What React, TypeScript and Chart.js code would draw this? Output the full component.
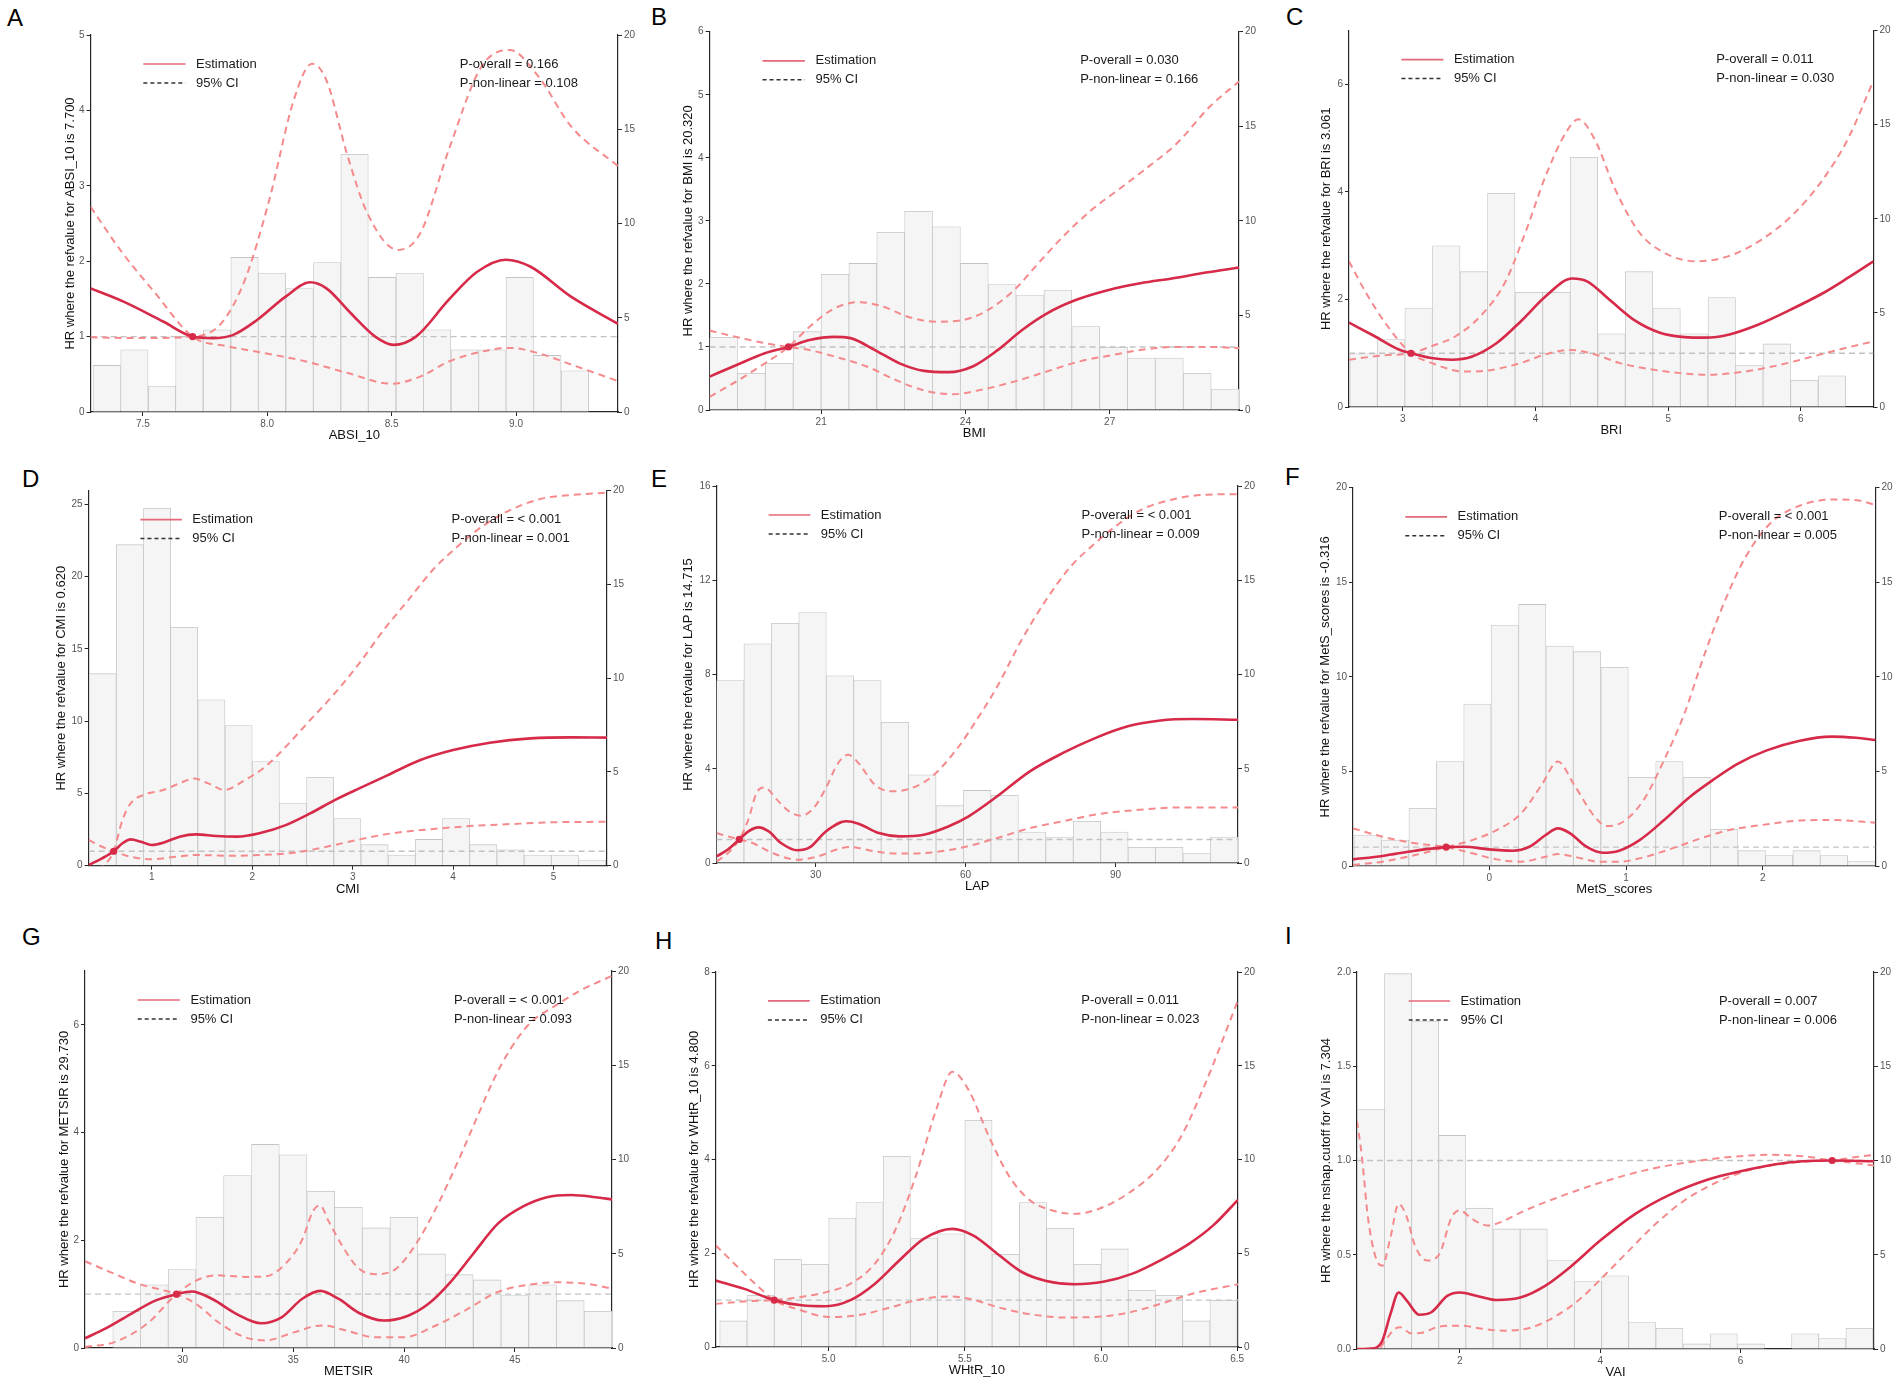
import React, { useEffect, useRef } from 'react';
import { Chart, registerables } from 'chart.js';

Chart.register(...registerables);

const FONT = '"Liberation Sans", Arial, Helvetica, sans-serif';
Chart.defaults.font.family = FONT;

type Pt = [number, number];

const LEGEND_LABELS = ['Estimation', '95% CI'];
const RIGHT_TICKS = [0, 5, 10, 15, 20];
const RIGHT_LABELS = ['0', '5', '10', '15', '20'];

// ---------------- A : ABSI_10 ----------------
const A_binX = [7.355, 7.466, 7.577, 7.687, 7.798, 7.909, 8.019, 8.13, 8.241, 8.351, 8.462, 8.573, 8.683, 8.794, 8.905, 9.015, 9.126, 9.237];
const A_binPct = [2.47, 3.3, 1.38, 4.01, 4.36, 8.2, 7.37, 6.55, 7.93, 13.67, 7.14, 7.37, 4.36, 3.3, 3.3, 7.14, 3.0, 2.19];
const A_est: Pt[] = [[7.29, 1.64], [7.418, 1.47], [7.582, 1.2], [7.7, 1.0], [7.779, 0.98], [7.861, 1.02], [7.959, 1.22], [8.074, 1.53], [8.172, 1.72], [8.238, 1.64], [8.336, 1.31], [8.434, 1.0], [8.508, 0.89], [8.598, 1.0], [8.73, 1.49], [8.844, 1.86], [8.959, 2.02], [9.057, 1.93], [9.221, 1.53], [9.41, 1.17]];
const A_upper: Pt[] = [[7.29, 0.99], [7.5, 0.98], [7.7, 1.0], [7.811, 1.16], [7.91, 1.75], [8.008, 2.81], [8.107, 4.14], [8.18, 4.62], [8.238, 4.4], [8.32, 3.43], [8.402, 2.64], [8.525, 2.15], [8.615, 2.37], [8.73, 3.48], [8.861, 4.58], [8.975, 4.8], [9.09, 4.45], [9.221, 3.79], [9.41, 3.26]];
const A_lower: Pt[] = [[7.29, 2.72], [7.418, 2.11], [7.549, 1.58], [7.7, 1.0], [7.844, 0.87], [7.992, 0.78], [8.156, 0.67], [8.32, 0.52], [8.5, 0.375], [8.615, 0.47], [8.73, 0.67], [8.861, 0.8], [8.975, 0.85], [9.09, 0.78], [9.221, 0.63], [9.41, 0.41]];
const A_xTicks = [7.5, 8.0, 8.5, 9.0];
const A_xLabels = ['7.5', '8.0', '8.5', '9.0'];
const A_yTicks = [0, 1, 2, 3, 4, 5];
const A_yLabels = ['0', '1', '2', '3', '4', '5'];

// ---------------- B : BMI ----------------
const B_binX = [18.97, 19.549, 20.129, 20.708, 21.288, 21.867, 22.447, 23.026, 23.606, 24.185, 24.765, 25.344, 25.924, 26.503, 27.083, 27.662, 28.242, 28.821, 29.401];
const B_binPct = [3.84, 1.94, 2.47, 4.14, 7.17, 7.75, 9.39, 10.5, 9.69, 7.75, 6.63, 6.08, 6.34, 4.41, 3.31, 2.75, 2.75, 1.94, 1.11];
const B_est: Pt[] = [[18.68, 0.53], [19.23, 0.71], [19.83, 0.9], [20.32, 1.0], [20.76, 1.11], [21.27, 1.16], [21.61, 1.14], [22.12, 0.95], [22.63, 0.74], [23.14, 0.62], [23.65, 0.6], [24.15, 0.69], [24.67, 0.95], [25.18, 1.27], [25.69, 1.53], [26.28, 1.74], [26.96, 1.9], [27.64, 2.01], [28.32, 2.09], [29.0, 2.18], [29.69, 2.26]];
const B_upper: Pt[] = [[18.68, 0.21], [19.23, 0.45], [19.83, 0.74], [20.32, 1.0], [20.76, 1.32], [21.27, 1.61], [21.78, 1.71], [22.29, 1.64], [22.8, 1.48], [23.39, 1.4], [23.9, 1.42], [24.41, 1.56], [25.01, 1.9], [25.52, 2.33], [26.03, 2.75], [26.62, 3.17], [27.21, 3.51], [27.81, 3.86], [28.4, 4.23], [29.08, 4.81], [29.69, 5.21]];
const B_lower: Pt[] = [[18.68, 1.26], [19.23, 1.16], [19.83, 1.06], [20.32, 1.0], [20.76, 0.95], [21.27, 0.85], [21.95, 0.69], [22.54, 0.48], [23.14, 0.31], [23.73, 0.25], [24.33, 0.32], [25.01, 0.45], [25.69, 0.61], [26.37, 0.77], [27.05, 0.87], [27.72, 0.96], [28.4, 1.0], [29.08, 1.0], [29.69, 0.98]];
const B_xTicks = [21, 24, 27];
const B_xLabels = ['21', '24', '27'];
const B_yTicks = [0, 1, 2, 3, 4, 5, 6];
const B_yLabels = ['0', '1', '2', '3', '4', '5', '6'];

// ---------------- C : BRI ----------------
const C_binX = [2.704, 2.912, 3.119, 3.327, 3.535, 3.742, 3.95, 4.158, 4.365, 4.573, 4.781, 4.988, 5.196, 5.404, 5.612, 5.819, 6.027, 6.235];
const C_binPct = [2.83, 3.58, 5.26, 8.57, 7.19, 11.35, 6.09, 6.09, 13.27, 3.89, 7.19, 5.26, 3.89, 5.82, 2.23, 3.35, 1.42, 1.66];
const C_est: Pt[] = [[2.594, 1.57], [2.785, 1.32], [2.969, 1.07], [3.061, 1.0], [3.215, 0.91], [3.369, 0.88], [3.523, 0.94], [3.708, 1.19], [3.892, 1.6], [4.077, 2.06], [4.277, 2.39], [4.385, 2.34], [4.569, 1.97], [4.754, 1.6], [4.938, 1.38], [5.123, 1.3], [5.277, 1.29], [5.462, 1.35], [5.677, 1.53], [5.923, 1.81], [6.169, 2.12], [6.354, 2.4], [6.548, 2.71]];
const C_upper: Pt[] = [[2.594, 0.88], [2.846, 0.96], [3.061, 1.0], [3.215, 1.13], [3.4, 1.32], [3.585, 1.69], [3.769, 2.31], [3.923, 3.24], [4.077, 4.3], [4.231, 5.11], [4.323, 5.35], [4.446, 4.98], [4.6, 4.05], [4.785, 3.24], [4.969, 2.87], [5.215, 2.71], [5.462, 2.81], [5.708, 3.12], [5.954, 3.61], [6.169, 4.24], [6.354, 4.98], [6.548, 6.07]];
const C_lower: Pt[] = [[2.594, 2.71], [2.723, 2.12], [2.877, 1.53], [3.061, 1.0], [3.215, 0.82], [3.462, 0.66], [3.646, 0.68], [3.892, 0.82], [4.077, 0.98], [4.262, 1.06], [4.446, 0.98], [4.631, 0.82], [4.846, 0.71], [5.092, 0.63], [5.308, 0.6], [5.554, 0.65], [5.8, 0.76], [6.046, 0.91], [6.292, 1.07], [6.548, 1.22]];
const C_xTicks = [3, 4, 5, 6];
const C_xLabels = ['3', '4', '5', '6'];
const C_yTicks = [0, 2, 4, 6];
const C_yLabels = ['0', '2', '4', '6'];

// ---------------- D : CMI ----------------
const D_binX = [0.51, 0.781, 1.052, 1.322, 1.593, 1.864, 2.135, 2.406, 2.676, 2.947, 3.218, 3.489, 3.76, 4.03, 4.301, 4.572, 4.843, 5.114, 5.384];
const D_binPct = [10.24, 17.12, 19.06, 12.71, 8.85, 7.47, 5.55, 3.34, 4.71, 2.51, 1.12, 0.57, 1.4, 2.51, 1.12, 0.85, 0.57, 0.57, 0.3];
const D_est: Pt[] = [[0.37, 0.05], [0.504, 0.51], [0.62, 1.0], [0.707, 1.55], [0.789, 1.82], [0.89, 1.66], [1.0, 1.43], [1.114, 1.59], [1.276, 2.01], [1.439, 2.17], [1.642, 2.05], [1.846, 2.01], [2.089, 2.28], [2.333, 2.81], [2.577, 3.62], [2.821, 4.54], [3.065, 5.35], [3.35, 6.27], [3.675, 7.31], [4.0, 8.0], [4.366, 8.51], [4.772, 8.81], [5.179, 8.88], [5.533, 8.86]];
const D_upper: Pt[] = [[0.37, -0.8], [0.52, 0.0], [0.62, 1.0], [0.707, 3.16], [0.789, 4.31], [0.911, 4.89], [1.114, 5.24], [1.276, 5.7], [1.419, 6.04], [1.561, 5.7], [1.724, 5.24], [1.927, 5.93], [2.13, 6.85], [2.333, 8.23], [2.577, 10.08], [2.821, 11.92], [3.065, 14.0], [3.309, 16.31], [3.553, 18.38], [3.797, 20.46], [4.041, 22.07], [4.285, 23.45], [4.569, 24.61], [4.894, 25.42], [5.179, 25.65], [5.533, 25.81]];
const D_lower: Pt[] = [[0.37, 1.78], [0.504, 1.31], [0.62, 1.0], [0.789, 0.62], [0.992, 0.44], [1.195, 0.58], [1.439, 0.74], [1.764, 0.69], [2.089, 0.74], [2.415, 0.9], [2.74, 1.31], [3.065, 1.82], [3.39, 2.24], [3.756, 2.51], [4.163, 2.74], [4.569, 2.88], [4.976, 3.0], [5.533, 3.04]];
const D_xTicks = [1, 2, 3, 4, 5];
const D_xLabels = ['1', '2', '3', '4', '5'];
const D_yTicks = [0, 5, 10, 15, 20, 25];
const D_yLabels = ['0', '5', '10', '15', '20', '25'];

// ---------------- E : LAP ----------------
const E_binX = [12.91, 18.4, 23.89, 29.38, 34.87, 40.36, 45.85, 51.34, 56.83, 62.32, 67.81, 73.3, 78.79, 84.28, 89.77, 95.26, 100.75, 106.24, 111.73];
const E_binPct = [9.68, 11.63, 12.72, 13.29, 9.93, 9.68, 7.46, 4.68, 3.04, 3.85, 3.59, 1.64, 1.38, 2.21, 1.64, 0.83, 0.83, 0.53, 1.38];
const E_est: Pt[] = [[10.16, 0.28], [12.45, 0.57], [14.715, 1.0], [16.53, 1.34], [18.57, 1.51], [20.61, 1.34], [23.06, 0.85], [26.33, 0.54], [28.78, 0.66], [32.04, 1.34], [36.12, 1.77], [38.57, 1.67], [42.65, 1.27], [46.73, 1.13], [51.63, 1.2], [56.53, 1.55], [60.61, 1.98], [66.33, 2.83], [72.86, 3.89], [79.39, 4.66], [85.92, 5.3], [92.45, 5.8], [98.98, 6.05], [105.51, 6.11], [114.5, 6.08]];
const E_upper: Pt[] = [[10.16, 0.07], [12.45, 0.42], [14.715, 1.0], [16.53, 1.84], [18.16, 2.97], [19.8, 3.2], [22.24, 2.69], [24.69, 2.19], [27.14, 2.01], [29.59, 2.33], [32.04, 3.18], [34.49, 4.24], [36.53, 4.59], [38.57, 4.24], [41.84, 3.32], [45.1, 3.04], [49.18, 3.18], [53.27, 3.67], [58.16, 4.81], [62.24, 6.08], [66.33, 7.49], [71.22, 9.47], [76.12, 11.17], [81.02, 12.58], [85.92, 13.57], [90.82, 14.42], [95.71, 15.05], [101.43, 15.43], [107.14, 15.62], [112.86, 15.65], [114.5, 15.65]];
const E_lower: Pt[] = [[10.16, 1.27], [12.45, 1.13], [14.715, 1.0], [17.35, 0.85], [21.43, 0.42], [26.33, 0.14], [30.41, 0.28], [34.49, 0.59], [36.94, 0.68], [41.84, 0.49], [46.73, 0.4], [53.27, 0.45], [59.8, 0.68], [66.33, 1.06], [72.86, 1.48], [79.39, 1.77], [86.73, 2.08], [94.9, 2.26], [103.06, 2.36], [114.5, 2.36]];
const E_xTicks = [30, 60, 90];
const E_xLabels = ['30', '60', '90'];
const E_yTicks = [0, 4, 8, 12, 16];
const E_yLabels = ['0', '4', '8', '12', '16'];

// ---------------- F : MetS_scores ----------------
const F_binX = [-0.89, -0.689, -0.488, -0.288, -0.087, 0.113, 0.314, 0.514, 0.715, 0.916, 1.116, 1.317, 1.517, 1.718, 1.919, 2.119, 2.32, 2.52, 2.721];
const F_binPct = [1.64, 1.37, 3.05, 5.52, 8.56, 12.74, 13.83, 11.63, 11.33, 10.5, 4.69, 5.52, 4.69, 1.94, 0.81, 0.55, 0.81, 0.55, 0.26];
const F_est: Pt[] = [[-0.997, 0.35], [-0.782, 0.53], [-0.543, 0.81], [-0.316, 1.0], [-0.185, 1.02], [-0.006, 0.88], [0.173, 0.81], [0.293, 1.02], [0.412, 1.64], [0.501, 1.99], [0.591, 1.73], [0.71, 1.02], [0.83, 0.7], [0.949, 0.81], [1.099, 1.37], [1.278, 2.43], [1.457, 3.6], [1.636, 4.55], [1.815, 5.4], [2.024, 6.1], [2.263, 6.61], [2.501, 6.84], [2.681, 6.78], [2.824, 6.66]];
const F_upper: Pt[] = [[-0.997, 0.05], [-0.782, 0.23], [-0.543, 0.58], [-0.316, 1.0], [-0.125, 1.37], [0.054, 1.9], [0.233, 2.78], [0.382, 4.28], [0.501, 5.52], [0.621, 4.28], [0.77, 2.61], [0.86, 2.11], [0.979, 2.34], [1.128, 3.49], [1.278, 5.6], [1.427, 8.07], [1.576, 11.24], [1.725, 14.06], [1.875, 16.35], [2.054, 18.11], [2.263, 19.03], [2.531, 19.38], [2.71, 19.31], [2.824, 19.08]];
const F_lower: Pt[] = [[-0.997, 1.99], [-0.782, 1.55], [-0.543, 1.2], [-0.316, 1.0], [-0.125, 0.67], [0.054, 0.35], [0.233, 0.23], [0.412, 0.49], [0.501, 0.63], [0.621, 0.49], [0.8, 0.23], [0.949, 0.23], [1.128, 0.46], [1.337, 0.93], [1.546, 1.46], [1.755, 1.9], [1.994, 2.17], [2.263, 2.4], [2.501, 2.43], [2.824, 2.29]];
const F_xTicks = [0, 1, 2];
const F_xLabels = ['0', '1', '2'];
const F_yTicks = [0, 5, 10, 15, 20];
const F_yLabels = ['0', '5', '10', '15', '20'];

// ---------------- G : METSIR ----------------
const G_binX = [26.23, 27.48, 28.73, 29.98, 31.23, 32.48, 33.74, 34.99, 36.24, 37.49, 38.74, 39.99, 41.24, 42.49, 43.75, 45.0, 46.25, 47.5, 48.75];
const G_binPct = [0, 1.95, 3.35, 4.16, 6.94, 9.15, 10.8, 10.25, 8.32, 7.47, 6.37, 6.94, 4.99, 3.89, 3.61, 2.78, 3.35, 2.51, 1.95];
const G_est: Pt[] = [[25.6, 0.18], [26.56, 0.37], [27.66, 0.63], [28.77, 0.88], [29.73, 1.0], [30.42, 1.05], [31.34, 0.91], [32.45, 0.63], [33.55, 0.46], [34.47, 0.57], [35.39, 0.91], [36.22, 1.06], [37.05, 0.91], [37.97, 0.65], [39.07, 0.51], [40.18, 0.6], [41.1, 0.82], [42.02, 1.19], [43.12, 1.75], [44.23, 2.31], [45.33, 2.62], [46.44, 2.8], [47.54, 2.84], [48.64, 2.8], [49.38, 2.76]];
const G_upper: Pt[] = [[25.6, 0.02], [26.93, 0.11], [28.4, 0.45], [29.73, 1.0], [30.61, 1.25], [31.53, 1.35], [32.82, 1.32], [33.74, 1.33], [34.66, 1.57], [35.39, 2.0], [35.9, 2.55], [36.2, 2.65], [36.6, 2.35], [37.23, 1.88], [37.97, 1.47], [38.71, 1.37], [39.63, 1.47], [40.55, 1.94], [41.47, 2.62], [42.39, 3.43], [43.31, 4.3], [44.04, 4.98], [44.78, 5.54], [45.7, 6.04], [46.8, 6.35], [47.91, 6.63], [49.38, 6.91]];
const G_lower: Pt[] = [[25.6, 1.61], [26.74, 1.41], [28.03, 1.19], [29.73, 1.0], [30.61, 0.82], [31.71, 0.45], [32.82, 0.2], [33.74, 0.14], [35.02, 0.29], [36.31, 0.42], [37.42, 0.32], [38.71, 0.2], [40.0, 0.2], [41.28, 0.39], [42.76, 0.7], [44.23, 1.04], [45.7, 1.18], [46.99, 1.22], [48.28, 1.19], [49.38, 1.1]];
const G_xTicks = [30, 35, 40, 45];
const G_xLabels = ['30', '35', '40', '45'];
const G_yTicks = [0, 2, 4, 6];
const G_yLabels = ['0', '2', '4', '6'];

// ---------------- H : WHtR_10 ----------------
const H_binX = [4.65, 4.75, 4.85, 4.95, 5.05, 5.15, 5.25, 5.35, 5.45, 5.55, 5.65, 5.75, 5.85, 5.95, 6.05, 6.15, 6.25, 6.35, 6.45];
const H_binPct = [1.39, 2.76, 4.68, 4.41, 6.88, 7.7, 10.17, 5.78, 6.04, 12.09, 4.94, 7.7, 6.33, 4.41, 5.23, 3.02, 2.76, 1.39, 2.49];
const H_est: Pt[] = [[4.585, 1.42], [4.69, 1.24], [4.8, 1.0], [4.9, 0.89], [4.99, 0.87], [5.08, 1.0], [5.17, 1.35], [5.26, 1.85], [5.35, 2.31], [5.454, 2.52], [5.53, 2.38], [5.619, 1.99], [5.709, 1.6], [5.799, 1.41], [5.903, 1.34], [6.008, 1.39], [6.113, 1.56], [6.218, 1.85], [6.323, 2.2], [6.413, 2.6], [6.503, 3.14]];
const H_upper: Pt[] = [[4.585, 0.92], [4.705, 0.98], [4.8, 1.0], [4.9, 1.07], [4.99, 1.17], [5.08, 1.35], [5.17, 1.78], [5.244, 2.49], [5.319, 3.63], [5.394, 5.05], [5.454, 5.87], [5.514, 5.48], [5.589, 4.48], [5.664, 3.63], [5.739, 3.13], [5.829, 2.9], [5.903, 2.84], [5.993, 2.95], [6.098, 3.27], [6.203, 3.77], [6.293, 4.48], [6.383, 5.62], [6.503, 7.4]];
const H_lower: Pt[] = [[4.585, 2.17], [4.66, 1.74], [4.735, 1.32], [4.8, 1.0], [4.9, 0.78], [5.0, 0.64], [5.11, 0.68], [5.23, 0.85], [5.33, 1.01], [5.44, 1.08], [5.53, 1.01], [5.62, 0.85], [5.74, 0.7], [5.86, 0.63], [5.978, 0.64], [6.098, 0.73], [6.218, 0.92], [6.338, 1.14], [6.503, 1.34]];
const H_xTicks = [5.0, 5.5, 6.0, 6.5];
const H_xLabels = ['5.0', '5.5', '6.0', '6.5'];
const H_yTicks = [0, 2, 4, 6, 8];
const H_yLabels = ['0', '2', '4', '6', '8'];

// ---------------- I : VAI ----------------
const I_binX = [0.733, 1.12, 1.506, 1.893, 2.279, 2.666, 3.053, 3.439, 3.826, 4.213, 4.599, 4.986, 5.373, 5.759, 6.146, 6.533, 6.919, 7.306, 7.693];
const I_binPct = [12.73, 19.91, 17.4, 11.33, 7.47, 6.37, 6.37, 4.69, 3.58, 3.88, 1.4, 1.1, 0.27, 0.81, 0.27, 0, 0.81, 0.55, 1.1];
const I_est: Pt[] = [[0.535, 0.0], [0.779, 0.004], [0.895, 0.044], [1.012, 0.186], [1.128, 0.3], [1.244, 0.257], [1.419, 0.182], [1.593, 0.195], [1.826, 0.283], [2.0, 0.3], [2.233, 0.283], [2.523, 0.26], [2.872, 0.274], [3.221, 0.336], [3.57, 0.434], [4.0, 0.575], [4.5, 0.717], [4.965, 0.814], [5.547, 0.9], [6.0, 0.943], [6.477, 0.979], [6.884, 0.996], [7.304, 1.0], [7.9, 0.996]];
const I_upper: Pt[] = [[0.535, 1.21], [0.605, 1.02], [0.69, 0.7], [0.808, 0.478], [0.895, 0.442], [1.012, 0.593], [1.128, 0.77], [1.244, 0.7], [1.36, 0.549], [1.535, 0.469], [1.709, 0.504], [1.884, 0.7], [2.0, 0.735], [2.174, 0.69], [2.407, 0.655], [2.581, 0.673], [2.93, 0.735], [3.337, 0.796], [3.802, 0.858], [4.267, 0.912], [4.733, 0.956], [5.256, 0.991], [5.837, 1.018], [6.419, 1.03], [6.884, 1.023], [7.304, 1.0], [7.64, 0.986], [7.9, 0.973]];
const I_lower: Pt[] = [[0.535, 0.0], [0.837, 0.0], [0.953, 0.053], [1.07, 0.106], [1.157, 0.115], [1.302, 0.083], [1.477, 0.088], [1.709, 0.119], [2.0, 0.124], [2.349, 0.106], [2.64, 0.097], [2.988, 0.111], [3.337, 0.168], [3.686, 0.257], [4.035, 0.381], [4.384, 0.513], [4.791, 0.664], [5.198, 0.788], [5.663, 0.885], [6.128, 0.95], [6.593, 0.982], [6.99, 0.996], [7.304, 1.0], [7.64, 1.018], [7.9, 1.03]];
const I_xTicks = [2, 4, 6];
const I_xLabels = ['2', '4', '6'];
const I_yTicks = [0, 0.5, 1.0, 1.5, 2.0];
const I_yLabels = ['0.0', '0.5', '1.0', '1.5', '2.0'];

interface PanelData {
  letter: string; xName: string; yTitle: string; pOverall: string; pNonlin: string;
  binX: number[]; binPct: number[]; est: Pt[]; upper: Pt[]; lower: Pt[]; ref: number;
  xMin: number; xMax: number; yMax: number;
  xTicks: number[]; xLabels: string[]; yTicks: number[]; yLabels: string[];
}

const PANELS: PanelData[] = [
  { letter: 'A', xName: 'ABSI_10', yTitle: 'HR where the refvalue for ABSI_10 is 7.700', pOverall: 'P-overall = 0.166', pNonlin: 'P-non-linear = 0.108', binX: A_binX, binPct: A_binPct, est: A_est, upper: A_upper, lower: A_lower, ref: 7.7, xMin: 7.29, xMax: 9.41, yMax: 5, xTicks: A_xTicks, xLabels: A_xLabels, yTicks: A_yTicks, yLabels: A_yLabels },
  { letter: 'B', xName: 'BMI', yTitle: 'HR where the refvalue for BMI is 20.320', pOverall: 'P-overall = 0.030', pNonlin: 'P-non-linear = 0.166', binX: B_binX, binPct: B_binPct, est: B_est, upper: B_upper, lower: B_lower, ref: 20.32, xMin: 18.68, xMax: 29.69, yMax: 6, xTicks: B_xTicks, xLabels: B_xLabels, yTicks: B_yTicks, yLabels: B_yLabels },
  { letter: 'C', xName: 'BRI', yTitle: 'HR where the refvalue for BRI is 3.061', pOverall: 'P-overall = 0.011', pNonlin: 'P-non-linear = 0.030', binX: C_binX, binPct: C_binPct, est: C_est, upper: C_upper, lower: C_lower, ref: 3.061, xMin: 2.594, xMax: 6.548, yMax: 7, xTicks: C_xTicks, xLabels: C_xLabels, yTicks: C_yTicks, yLabels: C_yLabels },
  { letter: 'D', xName: 'CMI', yTitle: 'HR where the refvalue for CMI is 0.620', pOverall: 'P-overall = < 0.001', pNonlin: 'P-non-linear = 0.001', binX: D_binX, binPct: D_binPct, est: D_est, upper: D_upper, lower: D_lower, ref: 0.62, xMin: 0.37, xMax: 5.533, yMax: 25.95, xTicks: D_xTicks, xLabels: D_xLabels, yTicks: D_yTicks, yLabels: D_yLabels },
  { letter: 'E', xName: 'LAP', yTitle: 'HR where the refvalue for LAP is 14.715', pOverall: 'P-overall = < 0.001', pNonlin: 'P-non-linear = 0.009', binX: E_binX, binPct: E_binPct, est: E_est, upper: E_upper, lower: E_lower, ref: 14.715, xMin: 10.16, xMax: 114.5, yMax: 16, xTicks: E_xTicks, xLabels: E_xLabels, yTicks: E_yTicks, yLabels: E_yLabels },
  { letter: 'F', xName: 'MetS_scores', yTitle: 'HR where the refvalue for MetS_scores is -0.316', pOverall: 'P-overall = < 0.001', pNonlin: 'P-non-linear = 0.005', binX: F_binX, binPct: F_binPct, est: F_est, upper: F_upper, lower: F_lower, ref: -0.316, xMin: -0.997, xMax: 2.824, yMax: 20, xTicks: F_xTicks, xLabels: F_xLabels, yTicks: F_yTicks, yLabels: F_yLabels },
  { letter: 'G', xName: 'METSIR', yTitle: 'HR where the refvalue for METSIR is 29.730', pOverall: 'P-overall = < 0.001', pNonlin: 'P-non-linear = 0.093', binX: G_binX, binPct: G_binPct, est: G_est, upper: G_upper, lower: G_lower, ref: 29.73, xMin: 25.6, xMax: 49.38, yMax: 7, xTicks: G_xTicks, xLabels: G_xLabels, yTicks: G_yTicks, yLabels: G_yLabels },
  { letter: 'H', xName: 'WHtR_10', yTitle: 'HR where the refvalue for WHtR_10 is 4.800', pOverall: 'P-overall = 0.011', pNonlin: 'P-non-linear = 0.023', binX: H_binX, binPct: H_binPct, est: H_est, upper: H_upper, lower: H_lower, ref: 4.8, xMin: 4.585, xMax: 6.503, yMax: 8, xTicks: H_xTicks, xLabels: H_xLabels, yTicks: H_yTicks, yLabels: H_yLabels },
  { letter: 'I', xName: 'VAI', yTitle: 'HR where the nshap.cutoff for VAI is 7.304', pOverall: 'P-overall = 0.007', pNonlin: 'P-non-linear = 0.006', binX: I_binX, binPct: I_binPct, est: I_est, upper: I_upper, lower: I_lower, ref: 7.304, xMin: 0.535, xMax: 7.9, yMax: 2, xTicks: I_xTicks, xLabels: I_xLabels, yTicks: I_yTicks, yLabels: I_yLabels },
];

// plot-area rectangles (page pixels) and y-title gap, plus panel letter positions
interface Layout { left: number; right: number; top: number; bottom: number; gap: number; lx: number; ly: number; }
const LAYOUT: Layout[] = [
  { left: 90.6, right: 618, top: 35, bottom: 412, gap: 20, lx: 7, ly: 6 },
  { left: 709.6, right: 1239, top: 31.7, bottom: 410, gap: 21, lx: 651, ly: 5 },
  { left: 1349, right: 1873.5, top: 30.6, bottom: 407, gap: 22, lx: 1286, ly: 5 },
  { left: 88.6, right: 607, top: 490.7, bottom: 865.7, gap: 27, lx: 22, ly: 467 },
  { left: 716.5, right: 1238, top: 486, bottom: 863, gap: 27.5, lx: 651, ly: 467 },
  { left: 1353, right: 1875.5, top: 487.7, bottom: 866, gap: 27, lx: 1285, ly: 465 },
  { left: 85, right: 612, top: 971, bottom: 1348, gap: 20.5, lx: 22, ly: 925 },
  { left: 715.7, right: 1238, top: 972, bottom: 1347, gap: 20.7, lx: 655, ly: 929 },
  { left: 1357, right: 1874, top: 972, bottom: 1349, gap: 30.5, lx: 1285, ly: 924 },
];

const EST_COLOR = '#d62a48';
const CI_COLOR = '#f58a8c';
const LEG_RED = '#e4687a';
const BAR_FILL = '#f5f5f5';
const BAR_EDGE = '#c4c4c4';
const REF_COLOR = '#c2c2c2';
const AXIS_COLOR = '#262626';
const TICK_TEXT = '#555555';

const toXY = (pts: Pt[]) => pts.map(([x, y]) => ({ x, y }));

function Panel({ d, lay }: { d: PanelData; lay: Layout }) {
  const ref = useRef<HTMLCanvasElement | null>(null);
  const L0 = lay.gap + 7.8;
  const R0 = 24;
  const T0 = 10;
  const B0 = 31;
  const cLeft = Math.round(lay.left - L0);
  const cTop = Math.round(lay.top - T0);
  const W = Math.round(lay.right + R0 - cLeft);
  const H = Math.round(lay.bottom + B0 - cTop);
  const L = lay.left - cLeft;
  const T = lay.top - cTop;
  const R = cLeft + W - lay.right;
  const B = cTop + H - lay.bottom;

  useEffect(() => {
    if (!ref.current) return;
    const overlay = {
      id: 'overlay' + d.letter,
      afterDraw(c: any) {
        const { ctx, chartArea: a } = c;
        const w = a.right - a.left;
        const h = a.bottom - a.top;
        const y1 = a.top + 0.077 * h;
        const y2 = y1 + 19;
        const x0 = a.left + 0.1 * w;
        const x1 = a.left + 0.18 * w;
        const xt = a.left + 0.2 * w;
        const xp = a.left + 0.7 * w;
        ctx.save();
        ctx.lineWidth = 1.6;
        ctx.strokeStyle = LEG_RED;
        ctx.beginPath(); ctx.moveTo(x0, y1); ctx.lineTo(x1, y1); ctx.stroke();
        ctx.setLineDash([4, 3]);
        ctx.strokeStyle = '#333333';
        ctx.lineWidth = 1.5;
        ctx.beginPath(); ctx.moveTo(x0, y2); ctx.lineTo(x1, y2); ctx.stroke();
        ctx.setLineDash([]);
        ctx.font = `13px ${FONT}`;
        ctx.fillStyle = '#1a1a1a';
        ctx.textBaseline = 'middle';
        ctx.textAlign = 'left';
        ctx.fillText(LEGEND_LABELS[0], xt, y1);
        ctx.fillText(LEGEND_LABELS[1], xt, y2);
        ctx.fillText(d.pOverall, xp, y1);
        ctx.fillText(d.pNonlin, xp, y2);
        ctx.restore();
      },
    };

    const tickGrid = { display: true, drawOnChartArea: false, drawTicks: true, tickLength: 4, tickColor: AXIS_COLOR, tickWidth: 1, offset: false };
    const border = { display: true, color: AXIS_COLOR, width: 1.2 };
    const tickFont = { size: 10, family: FONT };

    const chart = new Chart(ref.current, {
      type: 'bar',
      data: {
        datasets: [
          { type: 'scatter', data: [{ x: d.ref, y: 1 }], xAxisID: 'x', yAxisID: 'y', pointRadius: 3.6, pointBackgroundColor: EST_COLOR, pointBorderWidth: 0, order: 0 } as any,
          { type: 'line', data: toXY(d.est), xAxisID: 'x', yAxisID: 'y', borderColor: EST_COLOR, borderWidth: 2.6, pointRadius: 0, cubicInterpolationMode: 'monotone', fill: false, order: 1 } as any,
          { type: 'line', data: toXY(d.upper), xAxisID: 'x', yAxisID: 'y', borderColor: CI_COLOR, borderWidth: 2, borderDash: [7, 5], pointRadius: 0, cubicInterpolationMode: 'monotone', fill: false, order: 2 } as any,
          { type: 'line', data: toXY(d.lower), xAxisID: 'x', yAxisID: 'y', borderColor: CI_COLOR, borderWidth: 2, borderDash: [7, 5], pointRadius: 0, cubicInterpolationMode: 'monotone', fill: false, order: 3 } as any,
          { type: 'line', data: [{ x: d.xMin, y: 1 }, { x: d.xMax, y: 1 }], xAxisID: 'x', yAxisID: 'y', borderColor: REF_COLOR, borderWidth: 1.4, borderDash: [6, 4], pointRadius: 0, fill: false, order: 5 } as any,
          { type: 'bar', data: d.binX.map((x, i) => ({ x, y: d.binPct[i] })), xAxisID: 'x', yAxisID: 'y2', backgroundColor: BAR_FILL, borderColor: BAR_EDGE, borderWidth: 0.8, barPercentage: 1, categoryPercentage: 1, order: 10 } as any,
        ],
      },
      options: {
        responsive: false,
        animation: false,
        events: [],
        layout: { padding: { top: T, left: 0, right: 0, bottom: 0 } },
        plugins: { legend: { display: false }, tooltip: { enabled: false } },
        scales: {
          x: {
            type: 'linear', min: d.xMin, max: d.xMax, offset: false, z: 1,
            afterBuildTicks: (s: any) => { s.ticks = d.xTicks.map((v) => ({ value: v })); },
            afterFit: (s: any) => { s.height = B; },
            grid: tickGrid, border,
            ticks: { font: tickFont, color: TICK_TEXT, padding: 2, maxRotation: 0, autoSkip: false, callback: (_v: any, i: number) => d.xLabels[i] },
            title: { display: true, text: d.xName, font: { size: 13, family: FONT }, color: '#111111', padding: 0 },
          },
          y: {
            type: 'linear', position: 'left', axis: 'y', min: 0, max: d.yMax, z: 1,
            afterBuildTicks: (s: any) => { s.ticks = d.yTicks.map((v) => ({ value: v })); },
            afterFit: (s: any) => { s.width = L; },
            grid: tickGrid, border,
            ticks: { font: tickFont, color: TICK_TEXT, padding: 2, autoSkip: false, callback: (_v: any, i: number) => d.yLabels[i] },
            title: { display: true, text: d.yTitle, font: { size: 13, family: FONT }, color: '#111111', padding: 0 },
          },
          y2: {
            type: 'linear', position: 'right', axis: 'y', min: 0, max: 20, z: 1,
            afterBuildTicks: (s: any) => { s.ticks = RIGHT_TICKS.map((v) => ({ value: v })); },
            afterFit: (s: any) => { s.width = R; },
            grid: tickGrid, border,
            ticks: { font: tickFont, color: TICK_TEXT, padding: 2, autoSkip: false, callback: (_v: any, i: number) => RIGHT_LABELS[i] },
          },
        },
      } as any,
      plugins: [overlay],
    });
    return () => chart.destroy();
  }, []);

  return (
    <>
      <canvas ref={ref} width={W} height={H} style={{ position: 'absolute', left: cLeft, top: cTop, width: W, height: H, display: 'block' }} />
      <div style={{ position: 'absolute', left: lay.lx, top: lay.ly, fontFamily: FONT, fontSize: 24, lineHeight: '24px', color: '#000' }}>{d.letter}</div>
    </>
  );
}

export default function App() {
  return (
    <div style={{ position: 'absolute', left: 0, top: 0, width: 1901, height: 1384, background: '#ffffff', overflow: 'hidden' }}>
      {PANELS.map((d, i) => (
        <Panel key={d.letter} d={d} lay={LAYOUT[i]} />
      ))}
    </div>
  );
}
